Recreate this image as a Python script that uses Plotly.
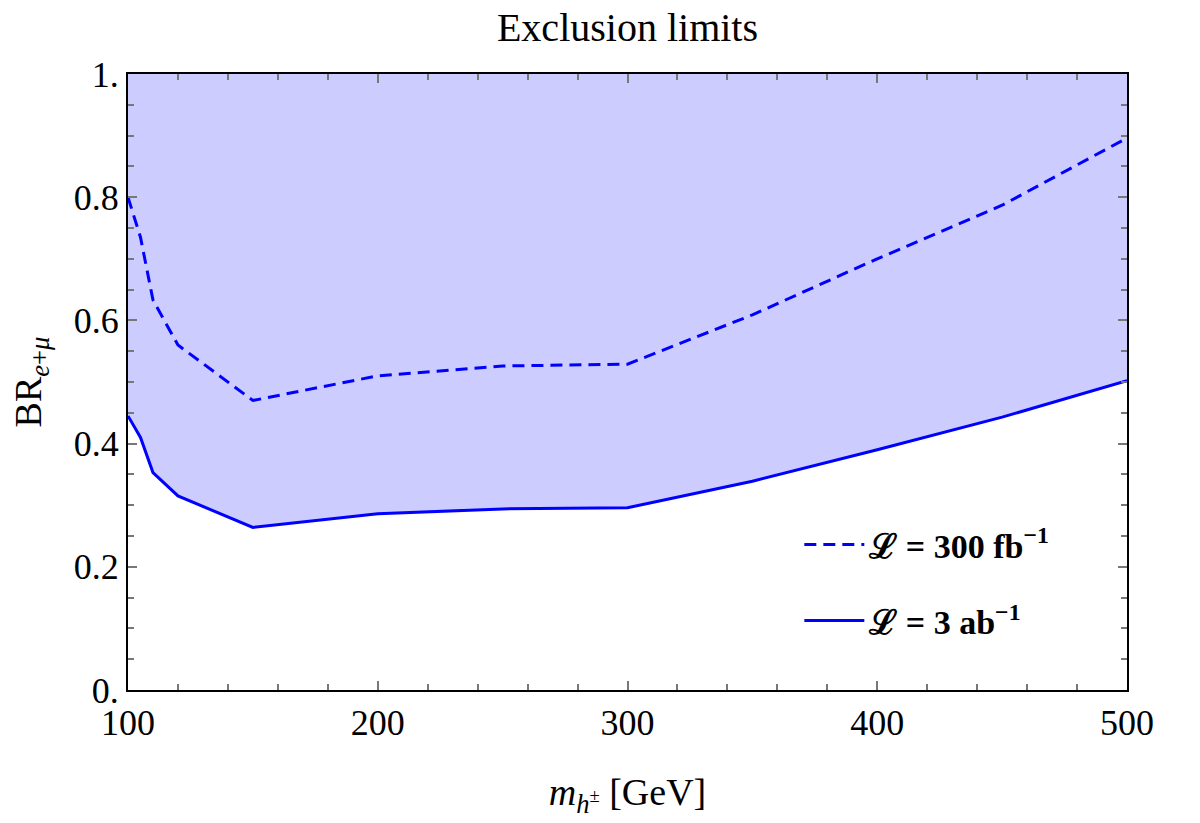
import plotly.graph_objects as go

# Data
mass = [100, 105, 110, 120, 150, 200, 250, 300, 350, 400, 450, 500]
br_300fb = [0.80, 0.735, 0.633, 0.56, 0.47, 0.51, 0.526, 0.529, 0.609, 0.70, 0.787, 0.896]
br_3ab = [0.445, 0.41, 0.353, 0.315, 0.264, 0.286, 0.294, 0.296, 0.339, 0.39, 0.443, 0.502]
y_top = 1.0

x_ticks = [100, 200, 300, 400, 500]
y_ticks = [0, 0.2, 0.4, 0.6, 0.8, 1.0]
y_ticktext = ["0.", "0.2", "0.4", "0.6", "0.8", "1."]

FONT = "Liberation Serif"
BLUE = "rgb(0,0,255)"
FILL = "rgb(204,204,255)"

fig = go.Figure()
# excluded region: between the 3 ab^-1 limit and BR = 1
fill_x = mass + mass[::-1]
fill_y = br_3ab + [y_top] * len(mass)
fig.add_trace(go.Scatter(x=fill_x, y=fill_y, mode="lines", fill="toself", fillcolor=FILL,
                         line=dict(width=0, color=FILL), showlegend=False, hoverinfo="skip"))
fig.add_trace(go.Scatter(x=mass, y=br_300fb, mode="lines",
                         line=dict(color=BLUE, width=3, dash="12px,7px"),
                         legendgroup="a",
                         name="<b>ℒ = 300 fb<sup>−1</sup></b>"))
fig.add_trace(go.Scatter(x=mass, y=br_3ab, mode="lines",
                         line=dict(color=BLUE, width=3),
                         legendgroup="b",
                         name="<b>ℒ = 3 ab<sup>−1</sup></b>"))

axis_common = dict(
    showline=True, linecolor="black", linewidth=2, mirror="allticks",
    ticks="inside", tickcolor="#777", tickwidth=1.5, ticklen=9,
    showgrid=False, zeroline=False,
    tickfont=dict(family=FONT, size=36, color="black"),
)

fig.update_xaxes(range=[100, 500], tickvals=x_ticks,
                 minor=dict(dtick=20, ticks="inside", ticklen=6, tickcolor="#777", tickwidth=1.5),
                 title=dict(text="<i>m</i><sub><i>h</i><sup>±</sup></sub> [GeV]",
                            font=dict(family=FONT, size=38, color="black"), standoff=36),
                 **axis_common)
fig.update_yaxes(range=[0, 1], tickvals=y_ticks, ticktext=y_ticktext,
                 minor=dict(dtick=0.05, ticks="inside", ticklen=6, tickcolor="#777", tickwidth=1.5),
                 title=dict(text="BR<sub><i>e</i>+<i>μ</i></sub>",
                            font=dict(family=FONT, size=38, color="black"), standoff=20),
                 **axis_common)

fig.update_layout(
    width=1200, height=823,
    margin=dict(l=128, r=73, t=74, b=133),
    paper_bgcolor="white", plot_bgcolor="white",
    title=dict(text="Exclusion limits", x=0.5, xref="paper", y=0.967, yanchor="middle",
               font=dict(family=FONT, size=40, color="black")),
    legend=dict(x=0.672, y=0.174, xanchor="left", yanchor="middle",
                bgcolor="rgba(0,0,0,0)", tracegroupgap=29, traceorder="grouped",
                font=dict(family=FONT, size=34, color="black"),
                itemwidth=60),
    showlegend=True,
)

fig.write_html("out.html")
